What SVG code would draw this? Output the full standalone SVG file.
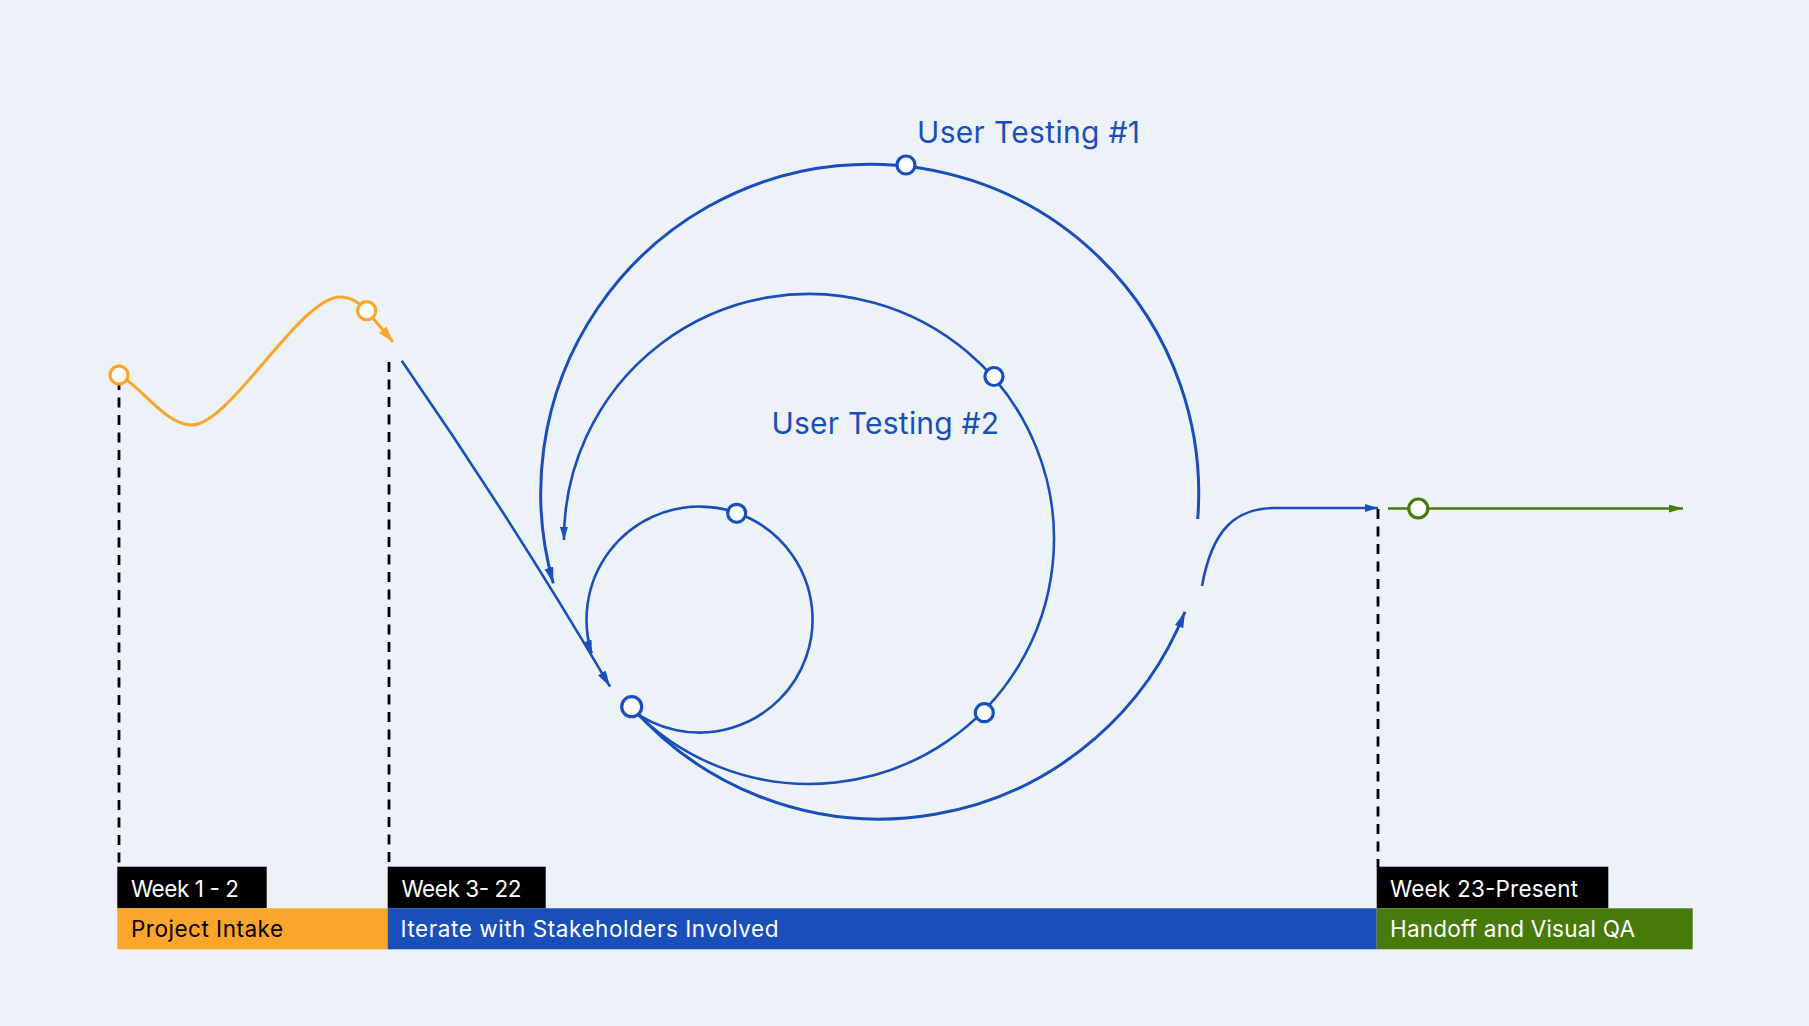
<svg xmlns="http://www.w3.org/2000/svg" width="1809" height="1026" viewBox="0 0 1809 1026">
<style>
.bg{fill:#EDF2F9}
.blue{fill:none;stroke:#1A4FBA}
.dash{fill:none;stroke:#000;stroke-width:2.8;stroke-dasharray:10 7.5}
.node-b{fill:#fff;stroke:#1A4FBA;stroke-width:3.2}
.node-o{fill:#fff;stroke:#FBA52A;stroke-width:3.2}
.node-g{fill:#fff;stroke:#487A0A;stroke-width:3.2}
.lbl{font-family:Inter,"Liberation Sans",sans-serif;font-size:22.5px}
.title{font-family:Inter,"Liberation Sans",sans-serif;font-size:30px;fill:#1A4FBA}
</style>
<defs>
<marker id="arB" viewBox="0 0 16 9" refX="16" refY="4.5" markerWidth="16" markerHeight="9" markerUnits="userSpaceOnUse" orient="auto"><path d="M0,0 L16,4.5 L0,9 z" fill="#1A4FBA"/></marker>
<marker id="arBs" viewBox="0 0 13 8" refX="13" refY="4" markerWidth="13" markerHeight="8" markerUnits="userSpaceOnUse" orient="auto"><path d="M0,0 L13,4 L0,8 z" fill="#1A4FBA"/></marker>
<marker id="arO" viewBox="0 0 16 10" refX="16" refY="5" markerWidth="16" markerHeight="10" markerUnits="userSpaceOnUse" orient="auto"><path d="M0,0 L16,5 L0,10 z" fill="#FBA52A"/></marker>
<marker id="arG" viewBox="0 0 14 8" refX="14" refY="4" markerWidth="14" markerHeight="8" markerUnits="userSpaceOnUse" orient="auto"><path d="M0,0 L14,4 L0,8 z" fill="#487A0A"/></marker>
</defs>
<rect class="bg" x="0" y="0" width="1809" height="1026"/>

<g id="connectors">
<line class="dash" x1="119" y1="380" x2="119" y2="867"/>
<line class="dash" x1="389" y1="362" x2="389" y2="867"/>
<line class="dash" x1="1378" y1="509" x2="1378" y2="867"/>
<path d="M119,375 C140,385 165,425 192,425 C230,425 300,297 340,297 C352,297 360,303 367,311 L393,342" fill="none" stroke="#FBA52A" stroke-width="3" marker-end="url(#arO)"/>
<path class="blue" d="M401.7,360.7 Q512,520 610,686.7" stroke-width="2.6" marker-end="url(#arB)"/>
<path class="blue" d="M1197.7,519 A329,329 0 1 0 553.3,583.3" stroke-width="3" marker-end="url(#arB)"/>
<path class="blue" d="M631.7,706.7 A329,329 0 0 0 1185,611.7" stroke-width="3" marker-end="url(#arB)"/>
<path class="blue" d="M631,707.3 A245,245 0 1 0 564,540" stroke-width="2.6" marker-end="url(#arBs)"/>
<path class="blue" d="M630.1,708.7 A113,113 0 1 0 591.7,653.3" stroke-width="2.6" marker-end="url(#arBs)"/>
<path class="blue" d="M1202,586 C1212,530 1235,508 1275,508 L1378,508" stroke-width="2.6" marker-end="url(#arBs)"/>
<line x1="1388" y1="508.5" x2="1683" y2="508.5" stroke="#487A0A" stroke-width="2.6" marker-end="url(#arG)"/>
</g>

<g id="node-intake-start"><circle class="node-o" cx="119" cy="375" r="9"/></g>
<g id="node-intake-end"><circle class="node-o" cx="366.7" cy="310.7" r="9"/></g>
<g id="node-main"><circle class="node-b" cx="631.7" cy="706.7" r="10"/></g>
<g id="node-inner"><circle class="node-b" cx="736.7" cy="513.3" r="9"/></g>
<g id="node-mid-top"><circle class="node-b" cx="994" cy="376.5" r="9"/></g>
<g id="node-mid-bottom"><circle class="node-b" cx="984.3" cy="712.7" r="9"/></g>
<g id="node-top"><circle class="node-b" cx="906" cy="165" r="9"/></g>
<g id="node-handoff"><circle class="node-g" cx="1418.3" cy="508.5" r="9.5"/></g>

<g id="label-ut1"><text class="title" x="917" y="143" textLength="223" lengthAdjust="spacing">User Testing #1</text></g>
<g id="label-ut2"><text class="title" x="771.5" y="434" textLength="227.5" lengthAdjust="spacing">User Testing #2</text></g>

<g id="phase-intake">
<rect x="117.3" y="866.7" width="149.4" height="41.6" fill="#000"/>
<text class="lbl" x="131" y="896.5" fill="#fff" textLength="108" lengthAdjust="spacing">Week 1 - 2</text>
<rect x="117.3" y="908.3" width="270.4" height="41" fill="#FBA52A"/>
<text class="lbl" x="131" y="937.3" fill="#000" textLength="152" lengthAdjust="spacing">Project Intake</text>
</g>
<g id="phase-iterate">
<rect x="387.7" y="866.7" width="158" height="41.6" fill="#000"/>
<text class="lbl" x="401.5" y="896.5" fill="#fff" textLength="120" lengthAdjust="spacing">Week 3- 22</text>
<rect x="387.7" y="908.3" width="989" height="41" fill="#1A4FBA"/>
<text class="lbl" x="400.5" y="937.3" fill="#fff" textLength="378" lengthAdjust="spacing">Iterate with Stakeholders Involved</text>
</g>
<g id="phase-handoff">
<rect x="1376.7" y="866.7" width="231.6" height="41.6" fill="#000"/>
<text class="lbl" x="1390" y="896.5" fill="#fff" textLength="188" lengthAdjust="spacing">Week 23-Present</text>
<rect x="1376.7" y="908.3" width="316" height="41" fill="#487A0A"/>
<text class="lbl" x="1390" y="937.3" fill="#fff" textLength="245" lengthAdjust="spacing">Handoff and Visual QA</text>
</g>
</svg>
